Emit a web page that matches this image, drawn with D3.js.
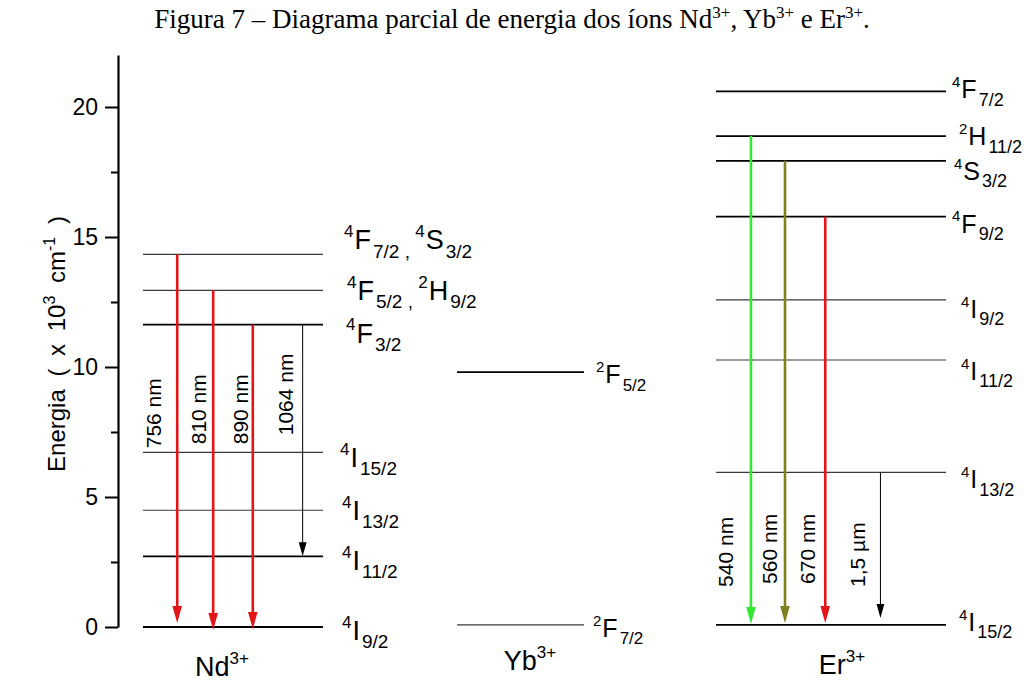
<!DOCTYPE html>
<html>
<head>
<meta charset="utf-8">
<script src="https://cdn.jsdelivr.net/npm/d3@7"></script>
<style>
  body { margin: 0; background: #fff; }
  svg text { font-family: Arial, "Liberation Sans", sans-serif; fill: #000; }
  svg .title { font-family: "Times New Roman", "Liberation Serif", serif; }
</style>
</head>
<body>
<svg id="chart" width="1026" height="681"></svg>
<script>
// energy levels in 10^3 cm^-1
const ndLevels = [14.33, 12.95, 11.63, 6.72, 4.49, 2.72, 0];
const ndTerms = [
  [["4", "F", "7/2"], ["4", "S", "3/2"]],
  [["4", "F", "5/2"], ["2", "H", "9/2"]],
  [["4", "F", "3/2"]],
  [["4", "I", "15/2"]],
  [["4", "I", "13/2"]],
  [["4", "I", "11/2"]],
  [["4", "I", "9/2"]]
];
const ybLevels = [9.8, 0.08];
const ybTerms = [[["2", "F", "5/2"]], [["2", "F", "7/2"]]];
const erLevels = [20.6, 18.88, 17.93, 15.78, 12.58, 10.27, 5.95, 0.08];
const erTerms = [
  [["4", "F", "7/2"]],
  [["2", "H", "11/2"]],
  [["4", "S", "3/2"]],
  [["4", "F", "9/2"]],
  [["4", "I", "9/2"]],
  [["4", "I", "11/2"]],
  [["4", "I", "13/2"]],
  [["4", "I", "15/2"]]
];

// emissions: upper level, lower level, label
const ndFrom = [14.33, 12.95, 11.63, 11.63];
const ndTo = [0, 0, 0, 2.72];
const ndLines = ["756 nm", "810 nm", "890 nm", "1064 nm"];
const erFrom = [18.88, 17.93, 15.78, 5.95];
const erTo = [0.08, 0.08, 0.08, 0.08];
const erLines = ["540 nm", "560 nm", "670 nm", "1,5 \u00b5m"];

const majorTicks = [0, 5, 10, 15, 20];
const minorTicks = [2.5, 7.5, 12.5, 17.5];

// ---- layout / style ----
const svg = d3.select("#chart");
const y = d3.scaleLinear().domain([0, 22]).range([627, 55]);
const axisX = 118;

const ions = [
  { name: "Nd", levels: ndLevels, terms: ndTerms, span: [143, 323],
    strong: [2, 5, 6], font: [27, 19, 17],
    labelDx: [21, 24, 23, 17, 19, 19, 19], labelDy: [-5, 10, 18, 15, 10, 14, 13],
    nameX: 222, nameDy: 49 },
  { name: "Yb", levels: ybLevels, terms: ybTerms, span: [457, 584],
    strong: [0], font: [25, 17, 15],
    labelDx: [12, 9], labelDy: [11, 12],
    nameX: 530, nameDy: 45 },
  { name: "Er", levels: erLevels, terms: erTerms, span: [716, 946],
    strong: [0, 1, 2, 3, 7], font: [25, 18, 15],
    labelDx: [6, 13, 8, 6, 15, 15, 15, 13], labelDy: [7, 9, 19, 16, 18, 20, 16, 6],
    nameX: 842, nameDy: 49 }
];

const arrowSets = [
  { ion: ions[0], from: ndFrom, to: ndTo, labels: ndLines,
    slot: [0.19, 0.39, 0.61, 0.887],
    colors: ["#e31519", "#e31519", "#e31519", "#000"],
    textDx: [-16, -7, -5, -10], textY: [y(6.72) - 4, y(6.72) - 8, y(6.72) - 8, y(6.72) - 17],
    tipDy: [-4, 3, 2, 0] },
  { ion: ions[2], from: erFrom, to: erTo, labels: erLines,
    slot: [0.152, 0.3, 0.475, 0.715],
    colors: ["#33e833", "#808020", "#e31519", "#000"],
    textDx: [-18, -8, -10, -15], textY: [y(0.08) - 38, y(0.08) - 41, y(0.08) - 41, y(0.08) - 38],
    tipDy: [-1, -2, -2, -7] }
];

// title
const title = svg.append("text").attr("class", "title")
  .attr("x", 512).attr("y", 28).attr("text-anchor", "middle")
  .style("font-size", "27px");
let shift = 0;
[["Figura 7 \u2013 Diagrama parcial de energia dos \u00edons Nd", false], ["3+", true],
 [", Yb", false], ["3+", true], [" e Er", false], ["3+", true], [".", false]]
  .forEach(([t, sup]) => {
    const dy = sup ? -10 : shift;
    shift = sup ? 10 : 0;
    title.append("tspan").text(t)
      .attr("dy", dy)
      .style("font-size", sup ? "17px" : null);
  });

// y axis
const gAxis = svg.append("g").attr("transform", `translate(${axisX},0)`);
gAxis.call(d3.axisLeft(y).tickValues(majorTicks).tickSize(13).tickSizeOuter(0).tickPadding(7));
gAxis.append("g")
  .call(d3.axisLeft(y).tickValues(minorTicks).tickSize(7).tickSizeOuter(0).tickFormat(""))
  .select(".domain").remove();
gAxis.selectAll(".domain").attr("stroke-width", 2.2);
gAxis.selectAll(".tick line").attr("stroke-width", 2);
gAxis.selectAll(".tick text").style("font-size", "23px")
  .style("font-family", "Arial, 'Liberation Sans', sans-serif");

// axis title
const yTitle = svg.append("text")
  .attr("transform", "translate(65,344) rotate(-90)")
  .attr("text-anchor", "middle").style("font-size", "24px")
  .style("word-spacing", "6px");
yTitle.append("tspan").text("Energia ( x 10");
yTitle.append("tspan").attr("dy", -10).style("font-size", "16px").text("3");
yTitle.append("tspan").attr("dy", 10).text(" cm");
yTitle.append("tspan").attr("dy", -10).style("font-size", "16px").text("-1");
yTitle.append("tspan").attr("dy", 10).text(" )");

// term label: sup + letter + sub, optionally two terms joined by a comma
function termLabel(g, x, yb, parts, font) {
  const [big, sub, sup] = font;
  const t = g.append("text").attr("x", x).attr("y", yb).style("font-size", big + "px");
  parts.forEach((p, i) => {
    if (i > 0) t.append("tspan").attr("dy", 0).style("font-size", sub + "px").text(" , ");
    t.append("tspan").attr("dy", -(i > 0 ? 0.75 : 0.45) * big).style("font-size", sup + "px").text(p[0]);
    t.append("tspan").attr("dy", 0.45 * big).attr("dx", 1).text(p[1]);
    t.append("tspan").attr("dy", 0.3 * big).attr("dx", 2).style("font-size", sub + "px").text(p[2]);
  });
}

// levels
ions.forEach(ion => {
  const x = d3.scaleLinear().domain([0, 1]).range(ion.span);
  ion.x = x;
  const g = svg.append("g");
  g.selectAll("line").data(ion.levels).join("line")
    .attr("x1", x(0)).attr("x2", x(1))
    .attr("y1", d => y(d)).attr("y2", d => y(d))
    .attr("stroke", (d, i) => ion.strong.includes(i) ? "#000" : "#3a3a3a")
    .attr("stroke-width", (d, i) => ion.strong.includes(i) ? 1.8 : 1.2);
  ion.levels.forEach((d, i) => {
    termLabel(g, x(1) + ion.labelDx[i], y(d) + ion.labelDy[i], ion.terms[i], ion.font);
  });
  // ion name
  const n = svg.append("text").attr("x", ion.nameX)
    .attr("y", y(ion.levels[ion.levels.length - 1]) + ion.nameDy)
    .attr("text-anchor", "middle").style("font-size", "27px");
  n.append("tspan").text(ion.name);
  n.append("tspan").attr("dy", -12).style("font-size", "17px").text("3+");
});

// emission arrows
arrowSets.forEach(set => {
  const x = set.ion.x;
  set.from.forEach((f, i) => {
    const ax = x(set.slot[i]);
    const c = set.colors[i];
    const heavy = c !== "#000";
    const hw = heavy ? 4.8 : 3.9, hl = heavy ? 17 : 14;
    const tip = y(set.to[i]) + set.tipDy[i];
    svg.append("line")
      .attr("x1", ax).attr("x2", ax)
      .attr("y1", y(f)).attr("y2", tip - hl + 2)
      .attr("stroke", c).attr("stroke-width", heavy ? 2.6 : 1);
    svg.append("path")
      .attr("d", `M${ax - hw},${tip - hl} L${ax + hw},${tip - hl} L${ax},${tip} Z`)
      .attr("fill", c);
    svg.append("text")
      .attr("transform", `translate(${ax + set.textDx[i]},${set.textY[i]}) rotate(-90)`)
      .style("font-size", "21px")
      .text(set.labels[i]);
  });
});
</script>
</body>
</html>
